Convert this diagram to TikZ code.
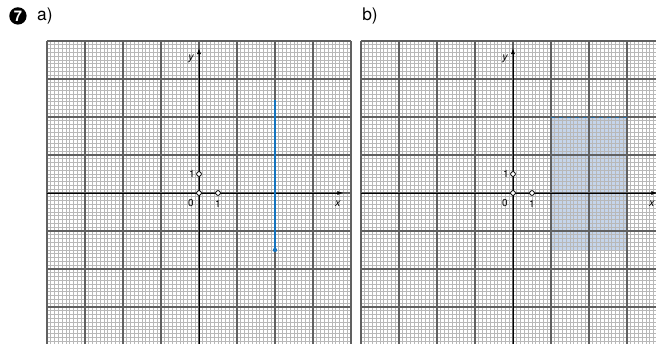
\documentclass[tikz,border=0pt]{standalone}
\usepackage{fontspec}
\setmainfont{TeX Gyre Heros}
\usepackage{xcolor}
\usetikzlibrary{arrows.meta,positioning}

\definecolor{graphblue}{RGB}{20,115,190}
\definecolor{shadeblue}{RGB}{110,150,205}

\begin{document}
\begin{tikzpicture}[
      x=0.5cm, y=0.5cm,
      >={Latex[length=1.6mm,width=1.1mm]},
      minorgrid/.style={draw=black!28, line width=0.5pt},
      majorgrid/.style={draw=black!62, line width=0.85pt},
      axis/.style={->, draw=black, line width=0.7pt},
      dotopen/.style={circle, draw=black, fill=white, line width=0.6pt,
        inner sep=0pt, minimum size=3.6pt},
      tick/.style={font=\fontsize{7.5}{8}\selectfont, inner sep=1pt},
      axlabel/.style={font=\fontsize{8}{9}\selectfont\itshape, inner sep=1pt},
      head/.style={font=\fontsize{13}{14}\selectfont, anchor=west, inner sep=0pt}]
    \useasboundingbox (-10.474,-7.947) rectangle (24.053,10.158);
    \clip (-10.474,-7.947) rectangle (24.053,10.158);

    % header
    \node[circle, fill=black, text=white, inner sep=0pt, minimum size=13pt,
      font=\bfseries\fontsize{11}{12}\selectfont] (num) at (-9.53,9.32) {7};
    \node[head] (tita) at (-8.53,9.32) {a)};
    \node[head] (titb) at (8.58,9.32) {b)};

    % panel a
    \begin{scope}
      \draw[minorgrid] (-8,-8) grid[step=0.2] (8,8);
      \draw[majorgrid] (-8,-8) grid[step=2] (8,8);
      \coordinate (oa) at (0,0);
      \coordinate (xa) at (7.6,0);
      \coordinate (ya) at (0,7.63);
      \coordinate (xla) at (-8,0);
      \coordinate (yla) at (0,-8);
      \draw[axis] (xla) -- (xa);
      \draw[axis] (yla) -- (ya);
      \coordinate (ttop) at (4,4.9);
      \coordinate (tbot) at (4,-3);
      \draw[draw=graphblue, line width=1.4pt] (ttop) -- (tbot);
      \fill[graphblue] (tbot) circle (1.6pt);
      \node[dotopen] (pa0) at (oa) {};
      \node[dotopen] (pax) at (1,0) {};
      \node[dotopen] (pay) at (0,1) {};
      \node[tick] (la0) at (-0.42,-0.55) {0};
      \node[tick] (lax) at (1,-0.55) {1};
      \node[tick] (lay) at (-0.37,1) {1};
      \node[axlabel] (lxa) at (7.3,-0.55) {x};
      \node[axlabel] (lya) at (-0.42,7.05) {y};
    \end{scope}

    % panel b
    \begin{scope}[shift={(16.526,0)}]
      \fill[shadeblue, opacity=0.4] (2,-3) rectangle (6,4);
      \draw[minorgrid] (-8,-8) grid[step=0.2] (8,8);
      \draw[majorgrid] (-8,-8) grid[step=2] (8,8);
      \draw[graphblue, dashed, line width=0.5pt, opacity=0.7] (2,4) -- (6,4);
      \coordinate (ob) at (0,0);
      \coordinate (xb) at (7.6,0);
      \coordinate (yb) at (0,7.63);
      \coordinate (xlb) at (-8,0);
      \coordinate (ylb) at (0,-8);
      \draw[axis] (xlb) -- (xb);
      \draw[axis] (ylb) -- (yb);
      \node[dotopen] (pb0) at (ob) {};
      \node[dotopen] (pbx) at (1,0) {};
      \node[dotopen] (pby) at (0,1) {};
      \node[tick] (lb0) at (-0.42,-0.55) {0};
      \node[tick] (lbx) at (1,-0.55) {1};
      \node[tick] (lby) at (-0.37,1) {1};
      \node[axlabel] (lxb) at (7.3,-0.55) {x};
      \node[axlabel] (lyb) at (-0.42,7.05) {y};
    \end{scope}
  \end{tikzpicture}
\end{document}
